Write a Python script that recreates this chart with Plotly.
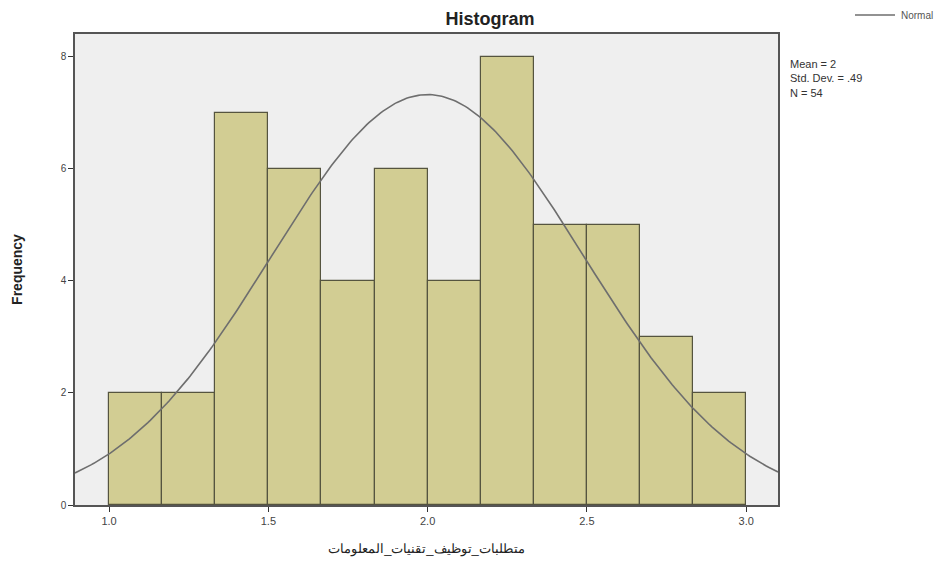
import numpy as np
import plotly.graph_objects as go

# Data
bin_start = 1.0
bin_width = 1.0 / 6.0
counts = [2, 2, 7, 6, 4, 6, 4, 8, 5, 5, 3, 2]
stat_mean = 2.0
stat_sd = 0.49
stat_n = 54
x_tick_vals = [1.0, 1.5, 2.0, 2.5, 3.0]
x_tick_text = ["1.0", "1.5", "2.0", "2.5", "3.0"]
y_tick_vals = [0, 2, 4, 6, 8]
x_title = "متطلبات_توظيف_تقنيات_المعلومات"

centers = [bin_start + bin_width * (i + 0.5) for i in range(len(counts))]

# Fitted normal curve (SPSS style) from mean / sd / N
xs = np.linspace(0.893, 3.10, 300)
ys = stat_n * bin_width / (stat_sd * np.sqrt(2 * np.pi)) * np.exp(-0.5 * ((xs - stat_mean) / stat_sd) ** 2)

OFF = 8  # page body margin
W, H = 948, 563
# desired plot box in screen pixels
PX0, PX1, PY0, PY1 = 75, 778, 34, 505
L, T = PX0 - OFF, PY0 - OFF
R, B = W - (PX1 - OFF), H - (PY1 - OFF)
PW, PH = PX1 - PX0, PY1 - PY0


def px(x):
    return (x - PX0) / PW


def py(y):
    return (PY1 - y) / PH


fig = go.Figure()
fig.add_trace(go.Bar(
    x=centers, y=counts, width=bin_width,
    marker=dict(color="#D2CD93", line=dict(color="#55543F", width=1.2)),
    showlegend=False, hoverinfo="skip"))
fig.add_trace(go.Scatter(
    x=xs, y=ys, mode="lines", name="Normal", showlegend=False,
    line=dict(color="#6E6E6E", width=1.6)))

fig.update_layout(
    width=W, height=H,
    margin=dict(l=L, r=R, t=T, b=B, autoexpand=False),
    paper_bgcolor="white", plot_bgcolor="#EFEFEF",
    font=dict(family="Liberation Sans, Arial, sans-serif", color="#222"),
    title=dict(text="<b>Histogram</b>", x=px(490), xref="paper",
               xanchor="center", y=1 - (19 - OFF) / H, yanchor="middle",
               font=dict(size=18, color="#222")),
    bargap=0,
    showlegend=False,
    xaxis=dict(range=[0.893, 3.10], tickvals=x_tick_vals, ticktext=x_tick_text,
               ticks="outside", ticklen=5, tickcolor="#333",
               showgrid=False, zeroline=False, automargin=False,
               showline=True, linecolor="#555", linewidth=1.5, mirror=True,
               tickfont=dict(size=11, color="#444"),
               title=dict(text=x_title, font=dict(size=13, color="#222"), standoff=18)),
    yaxis=dict(range=[0, 8.41], tickvals=y_tick_vals,
               ticks="outside", ticklen=5, tickcolor="#333",
               showgrid=False, zeroline=False, automargin=False,
               showline=True, linecolor="#555", linewidth=1.5, mirror=True,
               tickfont=dict(size=10, color="#444"),
               title=dict(text="<b>Frequency</b>", font=dict(size=14, color="#222"), standoff=35)),
)

# Legend drawn manually (top right, outside plot)
fig.add_shape(type="line", xref="paper", yref="paper",
              x0=px(855), x1=px(895), y0=py(15), y1=py(15),
              line=dict(color="#6E6E6E", width=1.6))
fig.add_annotation(text="Normal", xref="paper", yref="paper",
                   x=px(899), y=py(15), xanchor="left", yanchor="middle",
                   showarrow=False, font=dict(size=10, color="#555"))

fig.add_annotation(
    text=f"Mean = {stat_mean:g}<br>Std. Dev. = {('%.2f' % stat_sd).lstrip('0')}<br>N = {stat_n}",
    xref="paper", yref="paper", x=px(788), y=py(56),
    xanchor="left", yanchor="top", align="left", showarrow=False,
    font=dict(size=11, color="#333"))

fig.write_html("out.html")
